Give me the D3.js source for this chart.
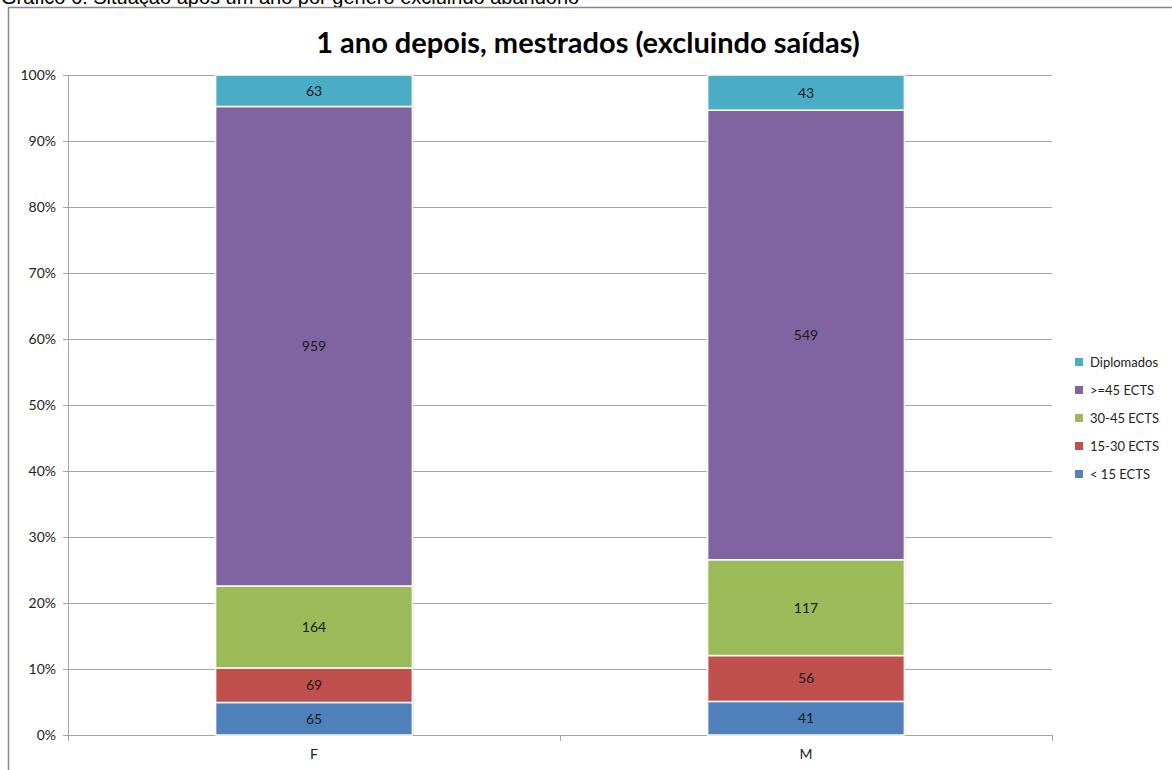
<!DOCTYPE html>
<html>
<head>
<meta charset="utf-8">
<script src="https://cdn.jsdelivr.net/npm/d3@7"></script>
<style>
  body { margin: 0; background: #fff; }
  svg { display: block; }
</style>
</head>
<body>
<svg id="chart"></svg>
<script>
// data
const categories = ['F', 'M'];
const seriesNames = ['< 15 ECTS', '15-30 ECTS', '30-45 ECTS', '>=45 ECTS', 'Diplomados'];
const lt15 = [65, 41];
const s15to30 = [69, 56];
const s30to45 = [164, 117];
const gte45 = [959, 549];
const diplomados = [63, 43];
const yTicks = [0, 0.1, 0.2, 0.3, 0.4, 0.5, 0.6, 0.7, 0.8, 0.9, 1];

const colorMap = {
  '< 15 ECTS': '#4f81bd',
  '15-30 ECTS': '#c0504d',
  '30-45 ECTS': '#9bbb59',
  '>=45 ECTS': '#8064a2',
  'Diplomados': '#4bacc6'
};

const W = 1172, H = 770;
const margin = { top: 75, right: 120, bottom: 35, left: 68 };
const width = 1052 - margin.left,
      height = 735 - margin.top;

let svg = d3.select('#chart')
  .attr('width', W)
  .attr('height', H)
  .style('font-family', 'Lato, "Open Sans", sans-serif');

// caption above the frame (cut off at top in the original too)
svg.append('text')
  .attr('x', 1)
  .attr('y', 4)
  .attr('font-family', '"Liberation Sans", Arial, sans-serif')
  .attr('font-size', 20)
  .attr('fill', '#000')
  .text('Gráfico 6: Situação após um ano por género excluindo abandono');

// frame
svg.append('rect')
  .attr('x', 8.5)
  .attr('y', 7.5)
  .attr('width', W + 20)
  .attr('height', H + 20)
  .attr('fill', '#fff')
  .attr('stroke', '#888')
  .attr('stroke-width', 1.5);

svg.append('text')
  .attr('x', 588)
  .attr('y', 53)
  .attr('text-anchor', 'middle')
  .attr('font-size', 29)
  .attr('font-weight', 'bold')
  .attr('fill', '#000')
  .text('1 ano depois, mestrados (excluindo saídas)');

let chart = svg.append('g')
  .attr('transform', `translate(${margin.left}, ${margin.top})`);

let x = d3.scaleBand()
  .domain(categories)
  .range([0, width])
  .paddingInner(0)
  .paddingOuter(0);

let y = d3.scaleLinear()
  .domain([0, 1])
  .range([height, 0]);

// gridlines
chart.append('g')
  .selectAll('line')
  .data(yTicks)
  .enter().append('line')
  .attr('x1', 0)
  .attr('x2', width)
  .attr('y1', (d) => Math.round(y(d)) + 0.5)
  .attr('y2', (d) => Math.round(y(d)) + 0.5)
  .attr('stroke', '#a6a6a6')
  .attr('stroke-width', 1);

// Y axis
let yAxisGroup = chart.append('g')
  .attr('class', 'axis axis-y')
  .call(d3.axisLeft(y).tickValues(yTicks).tickFormat(d3.format('.0%')).tickSize(5).tickSizeOuter(0));
yAxisGroup.select('.domain').attr('stroke', '#a6a6a6');
yAxisGroup.selectAll('.tick line').attr('stroke', '#a6a6a6');
yAxisGroup.selectAll('text')
  .attr('font-family', 'Lato, "Open Sans", sans-serif')
  .attr('font-size', 14)
  .attr('fill', '#222')
  .attr('x', -12);

// X axis
let xAxisGroup = chart.append('g')
  .attr('class', 'axis axis-x')
  .attr('transform', `translate(0, ${height})`)
  .call(d3.axisBottom(x).tickSize(0).tickSizeOuter(0));
xAxisGroup.select('.domain').attr('stroke', '#a6a6a6');
xAxisGroup.selectAll('text')
  .attr('font-family', 'Lato, "Open Sans", sans-serif')
  .attr('font-size', 14)
  .attr('fill', '#222')
  .attr('dy', '1.5em');
// category separators
xAxisGroup.selectAll('.sep')
  .data([0, x('M'), width])
  .enter().append('line')
  .attr('x1', (d) => d + 0.5)
  .attr('x2', (d) => d + 0.5)
  .attr('y1', 0)
  .attr('y2', 6)
  .attr('stroke', '#a6a6a6');

// stacked bars
const rows = categories.map((c, i) => ({
  cat: c,
  '< 15 ECTS': lt15[i],
  '15-30 ECTS': s15to30[i],
  '30-45 ECTS': s30to45[i],
  '>=45 ECTS': gte45[i],
  'Diplomados': diplomados[i]
}));

let stacked = d3.stack()
  .keys(seriesNames)
  .offset(d3.stackOffsetExpand)(rows);

let barWidth = x.bandwidth() * 0.4;

let layers = chart.append('g')
  .attr('class', 'bars')
  .selectAll('g')
  .data(stacked)
  .enter().append('g');

// soft shadow
layers.selectAll('rect.shadow')
  .data((s) => s)
  .enter().append('rect')
  .attr('x', (d) => x(d.data.cat) + (x.bandwidth() - barWidth) / 2 + 1.5)
  .attr('y', (d) => y(d[1]) + 1)
  .attr('width', barWidth)
  .attr('height', (d) => y(d[0]) - y(d[1]))
  .attr('fill', '#000')
  .attr('opacity', 0.08);

layers.each(function(s) {
  d3.select(this).selectAll('rect.bar')
    .data(s)
    .enter().append('rect')
    .attr('class', 'bar')
    .attr('fill', colorMap[s.key])
    .attr('stroke', '#fff')
    .attr('stroke-width', 1.5)
    .attr('x', (d) => x(d.data.cat) + (x.bandwidth() - barWidth) / 2)
    .attr('y', (d) => y(d[1]))
    .attr('width', barWidth)
    .attr('height', (d) => y(d[0]) - y(d[1]));

  d3.select(this).selectAll('text')
    .data(s)
    .enter().append('text')
    .attr('x', (d) => x(d.data.cat) + x.bandwidth() / 2)
    .attr('y', (d) => (y(d[0]) + y(d[1])) / 2)
    .attr('dy', '0.35em')
    .attr('text-anchor', 'middle')
    .attr('font-size', 14)
    .attr('fill', '#1a1a1a')
    .text((d) => d.data[s.key]);
});

// legend
let legend = svg.append('g')
  .attr('class', 'legend')
  .attr('transform', 'translate(1075, 362)');

let items = legend.selectAll('g')
  .data(seriesNames.slice().reverse())
  .enter().append('g')
  .attr('transform', (d, i) => `translate(0, ${i * 28})`);

items.append('rect')
  .attr('x', 0)
  .attr('y', -4)
  .attr('width', 8)
  .attr('height', 8)
  .attr('fill', (d) => colorMap[d]);

items.append('text')
  .attr('x', 15)
  .attr('y', 0)
  .attr('dy', '0.35em')
  .attr('font-size', 13)
  .attr('fill', '#222')
  .text((d) => d);
</script>
</body>
</html>
